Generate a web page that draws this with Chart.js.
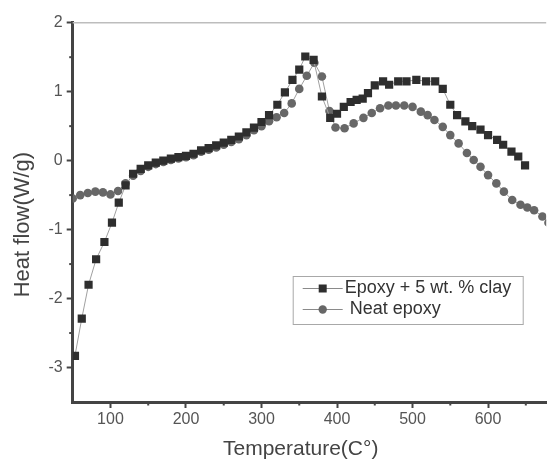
<!DOCTYPE html>
<html><head><meta charset="utf-8">
<script src="https://cdn.jsdelivr.net/npm/chart.js@4/dist/chart.umd.min.js"></script>
<style>html,body{margin:0;padding:0;background:#fff;overflow:hidden}#wrap{width:552px;height:463px;position:relative}</style>
</head><body><div id="wrap"><canvas id="c" width="552" height="463"></canvas></div>
<script>
// Epoxy + 5 wt. % clay
const clayT = [53,62,71,81,92,102,111,120,130,140,150,160,170,180,190,200,210,220,230,240,250,260,270,280,290,300,310,321,331,341,350,358,369,380,391,400,409,418,426,434,441,450,461,469,481,492,505,518,530,540,550,559,570,579,590,600,612,620,631,640,649];
const clayV = [-2.83,-2.29,-1.80,-1.43,-1.18,-0.90,-0.61,-0.36,-0.19,-0.12,-0.07,-0.03,0.00,0.03,0.05,0.07,0.10,0.15,0.18,0.22,0.26,0.30,0.35,0.41,0.48,0.56,0.66,0.81,0.99,1.17,1.32,1.51,1.46,0.93,0.62,0.68,0.78,0.85,0.88,0.90,0.98,1.09,1.15,1.10,1.15,1.15,1.17,1.15,1.15,1.04,0.81,0.66,0.57,0.50,0.45,0.37,0.30,0.23,0.13,0.06,-0.07];
// Neat epoxy
const neatT = [50,60,70,80,90,100,110,120,130,140,150,160,170,180,190,200,210,220,230,240,250,260,270,280,290,300,310,320,330,340,350,360,370,380,390,398,410,422,435,446,457,468,478,489,500,511,520,529,540,550,561,572,581,590,600,611,621,632,643,652,661,672,680];
const neatV = [-0.55,-0.50,-0.47,-0.45,-0.46,-0.49,-0.44,-0.33,-0.22,-0.15,-0.09,-0.05,-0.02,0.01,0.03,0.05,0.08,0.13,0.16,0.19,0.23,0.27,0.31,0.37,0.44,0.50,0.57,0.63,0.69,0.83,1.04,1.23,1.42,1.22,0.72,0.48,0.47,0.54,0.62,0.69,0.76,0.80,0.80,0.80,0.78,0.71,0.66,0.59,0.49,0.37,0.25,0.11,0.01,-0.09,-0.21,-0.33,-0.45,-0.57,-0.64,-0.68,-0.72,-0.81,-0.90];
const xMajorTicks = [100,200,300,400,500,600];
const xMinorTicks = [150,250,350,450,550,650];
const yMajorTicks = [-3,-2,-1,0,1,2];
const yMinorTicks = [-2.5,-1.5,-0.5,0.5,1.5];
const seriesLabels = ['Epoxy + 5 wt. % clay','Neat epoxy'];
const xTitle = 'Temperature(C°)';
const yTitle = 'Heat flow(W/g)';

const toXY = (xs, ys) => xs.map((x,i)=>({x:x,y:ys[i]}));
const FONT = '"Liberation Sans", Arial, sans-serif';

const extras = {
  id:'extras',
  afterDraw(chart){
    const ctx = chart.ctx, ca = chart.chartArea;
    const xs = chart.scales.x, ys = chart.scales.y;
    ctx.save();
    // top frame line
    ctx.strokeStyle = '#bdbdbd'; ctx.lineWidth = 1.5;
    ctx.beginPath(); ctx.moveTo(ca.left, ca.top); ctx.lineTo(ca.right, ca.top); ctx.stroke();
    // minor ticks
    ctx.strokeStyle = '#444'; ctx.lineWidth = 2;
    xMinorTicks.forEach(v=>{ const p = xs.getPixelForValue(v); ctx.beginPath(); ctx.moveTo(p, ca.bottom); ctx.lineTo(p, ca.bottom+3.5); ctx.stroke(); });
    yMinorTicks.forEach(v=>{ const p = ys.getPixelForValue(v); ctx.beginPath(); ctx.moveTo(ca.left, p); ctx.lineTo(ca.left-3.5, p); ctx.stroke(); });
    // legend
    const bx = ca.left + 220, by = 276, bw = 230, bh = 48;
    ctx.strokeStyle = '#a8a8a8'; ctx.lineWidth = 1;
    ctx.strokeRect(bx+0.5, by+0.5, bw, bh);
    const rows = [by+12.5, by+33.5];
    const textX = [bx+52, bx+57];
    chart.data.datasets.forEach((ds,i)=>{
      const y = rows[i];
      ctx.strokeStyle = '#8a8a8a'; ctx.lineWidth = 1;
      ctx.beginPath(); ctx.moveTo(bx+10, y); ctx.lineTo(bx+50, y); ctx.stroke();
      ctx.fillStyle = ds.pointBackgroundColor;
      if (ds.pointStyle === 'rect') ctx.fillRect(bx+26, y-4, 8, 8);
      else { ctx.beginPath(); ctx.arc(bx+30, y, 4.2, 0, Math.PI*2); ctx.fill(); }
      ctx.fillStyle = '#333'; ctx.font = '18px ' + FONT; ctx.textBaseline = 'middle'; ctx.textAlign = 'left';
      ctx.fillText(ds.label, textX[i], y);
    });
    ctx.restore();
  }
};

new Chart(document.getElementById('c'), {
  type:'scatter',
  data:{ datasets:[
    { label:seriesLabels[0], data:toXY(clayT, clayV), showLine:true, borderColor:'#a0a0a0', borderWidth:1,
      pointStyle:'rect', pointRadius:5.8, pointBackgroundColor:'#2e2e2e', pointBorderColor:'#2e2e2e', pointBorderWidth:0 },
    { label:seriesLabels[1], data:toXY(neatT, neatV), showLine:true, borderColor:'#a0a0a0', borderWidth:1,
      pointStyle:'circle', pointRadius:4.3, pointBackgroundColor:'#676767', pointBorderColor:'#676767', pointBorderWidth:0 }
  ]},
  options:{
    responsive:false, animation:false, devicePixelRatio:1,
    layout:{ padding:{ top:22.7, right:0, left:0, bottom:0 } },
    plugins:{ legend:{display:false}, tooltip:{enabled:false} },
    scales:{
      x:{ type:'linear', min:50, max:677,
        afterBuildTicks:(s)=>{ s.ticks = xMajorTicks.map(v=>({value:v})); },
        afterFit:(s)=>{ s.height = 61; },
        ticks:{ color:'#555', font:{family:FONT, size:16}, padding:2, maxRotation:0, autoSkip:false },
        grid:{ drawOnChartArea:false, tickLength:6, tickColor:'#444', tickWidth:2 },
        border:{ color:'#444', width:3 },
        title:{ display:true, text:xTitle + '   ', color:'#444', font:{family:FONT, size:21}, padding:{top:0,bottom:1} }
      },
      y:{ type:'linear', min:-3.5, max:2,
        afterBuildTicks:(s)=>{ s.ticks = yMajorTicks.map(v=>({value:v})); },
        afterFit:(s)=>{ s.width = 72.7; },
        ticks:{ color:'#555', font:{family:FONT, size:16}, padding:4, autoSkip:false },
        grid:{ drawOnChartArea:false, tickLength:6, tickColor:'#444', tickWidth:2 },
        border:{ color:'#444', width:3 },
        title:{ display:true, text:yTitle + '    ', color:'#444', font:{family:FONT, size:22}, padding:{top:10,bottom:0} }
      }
    }
  },
  plugins:[extras]
});
</script></body></html>
